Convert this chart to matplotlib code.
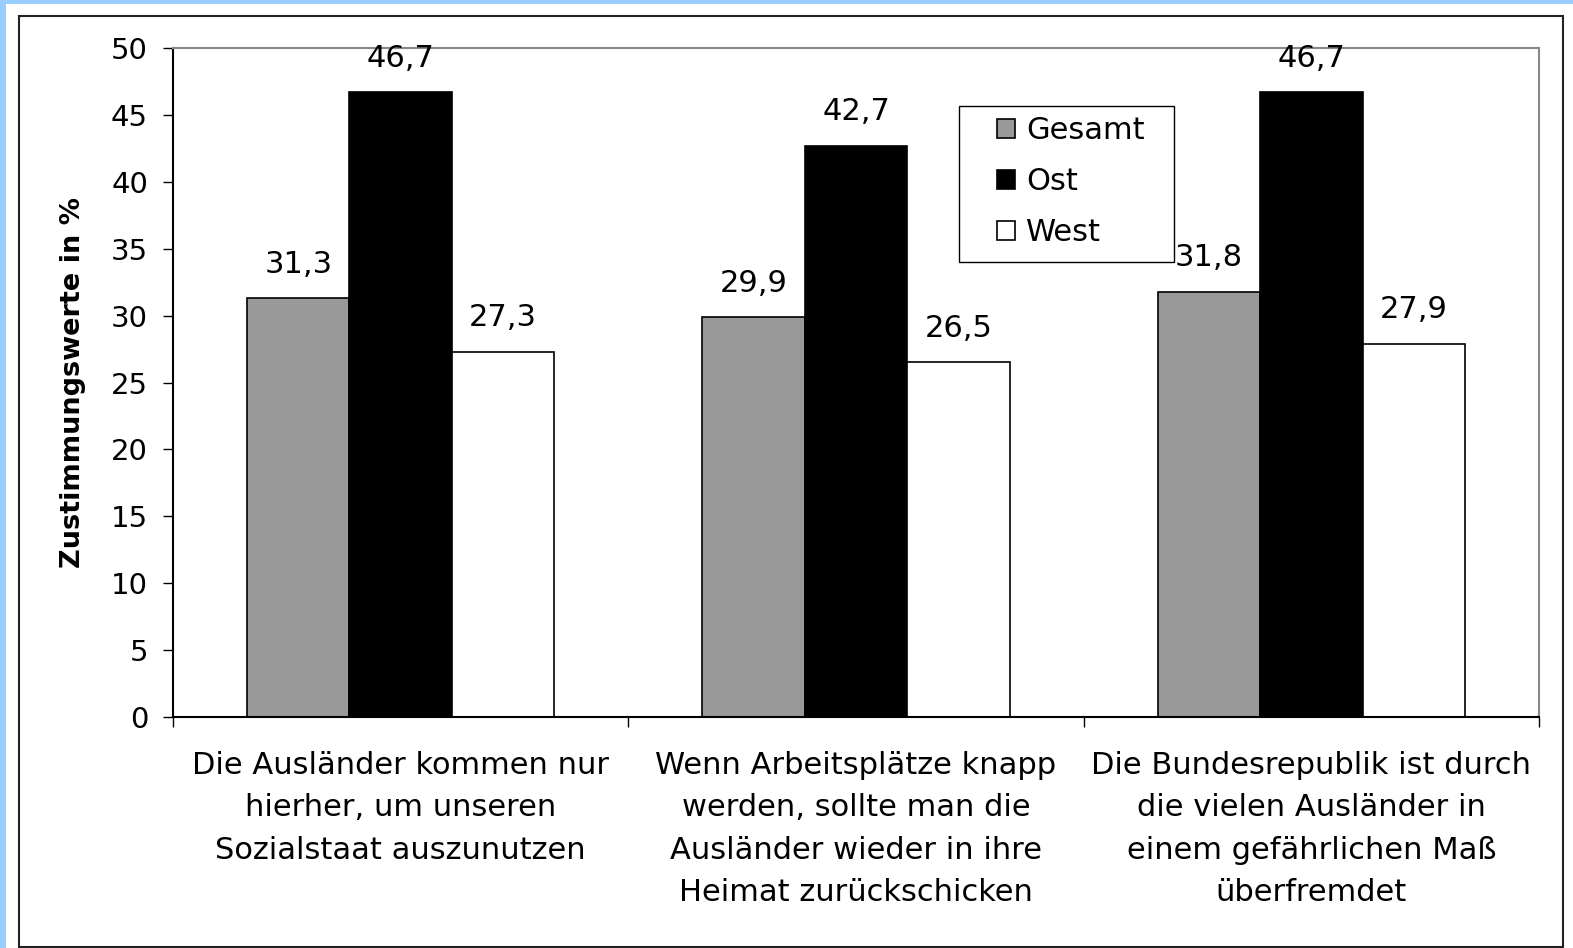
import numpy as np
import matplotlib.pyplot as plt
from matplotlib.patches import Rectangle

plt.rcParams['font.family'] = ['DejaVu Sans']

categories = [
    "Die Ausländer kommen nur\nhierher, um unseren\nSozialstaat auszunutzen",
    "Wenn Arbeitsplätze knapp\nwerden, sollte man die\nAusländer wieder in ihre\nHeimat zurückschicken",
    "Die Bundesrepublik ist durch\ndie vielen Ausländer in\neinem gefährlichen Maß\nüberfremdet",
]
series_names = ["Gesamt", "Ost", "West"]
gesamt = [31.3, 29.9, 31.8]
ost = [46.7, 42.7, 46.7]
west = [27.3, 26.5, 27.9]
colors = ["#999999", "#000000", "#ffffff"]

W, H = 1573, 948
fig = plt.figure(figsize=(W / 100, H / 100), dpi=100)
fig.patch.set_facecolor("#99ccff")

# white card + black frame
fig.patches.append(Rectangle((6 / W, 0), 1 - 6 / W, 1 - 4 / H, transform=fig.transFigure,
                             facecolor="white", edgecolor="none", zorder=-10))
fig.patches.append(Rectangle((19 / W, 1 / H), (1563 - 19) / W, (947 - 16) / H,
                             transform=fig.transFigure, facecolor="none",
                             edgecolor="#222222", lw=1.5, zorder=-9))

ax_l, ax_r, ax_t, ax_b = 173, 1539, 48, 717
ax = fig.add_axes([ax_l / W, 1 - ax_b / H, (ax_r - ax_l) / W, (ax_b - ax_t) / H])
ax.set_facecolor("white")

x = np.arange(len(categories))
bw = 0.225
for i, (name, vals) in enumerate(zip(series_names, [gesamt, ost, west])):
    pos = x + (i - 1) * bw
    ax.bar(pos, vals, bw, color=colors[i], edgecolor="black", lw=1.2,
           label=name, zorder=2)
    for p, v in zip(pos, vals):
        ax.text(p, v + 1.9, f"{v:.1f}".replace(".", ","), ha="center",
                va="baseline", fontsize=22)

ax.set_xlim(-0.5, 2.5)
ax.set_ylim(0, 50)
ax.set_yticks(np.arange(0, 51, 5))
ax.tick_params(axis="y", labelsize=21, direction="out", length=7, width=1, pad=11)
ax.set_xticks([-0.5, 0.5, 1.5, 2.5])
ax.set_xticklabels([])
ax.tick_params(axis="x", direction="out", length=7, width=1)
for i, c in enumerate(categories):
    ax.text(i, -2.55, c, ha="center", va="top", fontsize=22, linespacing=1.58)

ax.spines["left"].set_color("black")
ax.spines["bottom"].set_color("black")
ax.spines["top"].set_color("#888888")
ax.spines["right"].set_color("#888888")
for s in ax.spines.values():
    s.set_linewidth(1.5)

ax.set_ylabel("Zustimmungswerte in %", fontsize=19.5, fontweight="bold")
ax.yaxis.set_label_coords((86 - ax_l) / (ax_r - ax_l), 0.5)

# legend: entries without frame, frame drawn as box like the original
def ax_x(px):
    return (px - ax_l) / (ax_r - ax_l)

def ax_y(py):
    return (ax_b - py) / (ax_b - ax_t)

leg = ax.legend(loc="upper left", bbox_to_anchor=(ax_x(997), ax_y(116)),
                fontsize=22, frameon=False,
                handlelength=0.6, handleheight=0.6, handletextpad=0.36,
                labelspacing=0.72, borderpad=0, borderaxespad=0)
for h in leg.legend_handles:
    h.set_edgecolor("black")
    h.set_linewidth(1.2)
ax.add_patch(Rectangle((ax_x(959), ax_y(262)), ax_x(1174) - ax_x(959), ax_y(106) - ax_y(262),
                       transform=ax.transAxes, facecolor="white", edgecolor="black",
                       lw=1.0, zorder=4))
leg.set_zorder(5)

fig.savefig("out.png", dpi=100, facecolor=fig.get_facecolor())
